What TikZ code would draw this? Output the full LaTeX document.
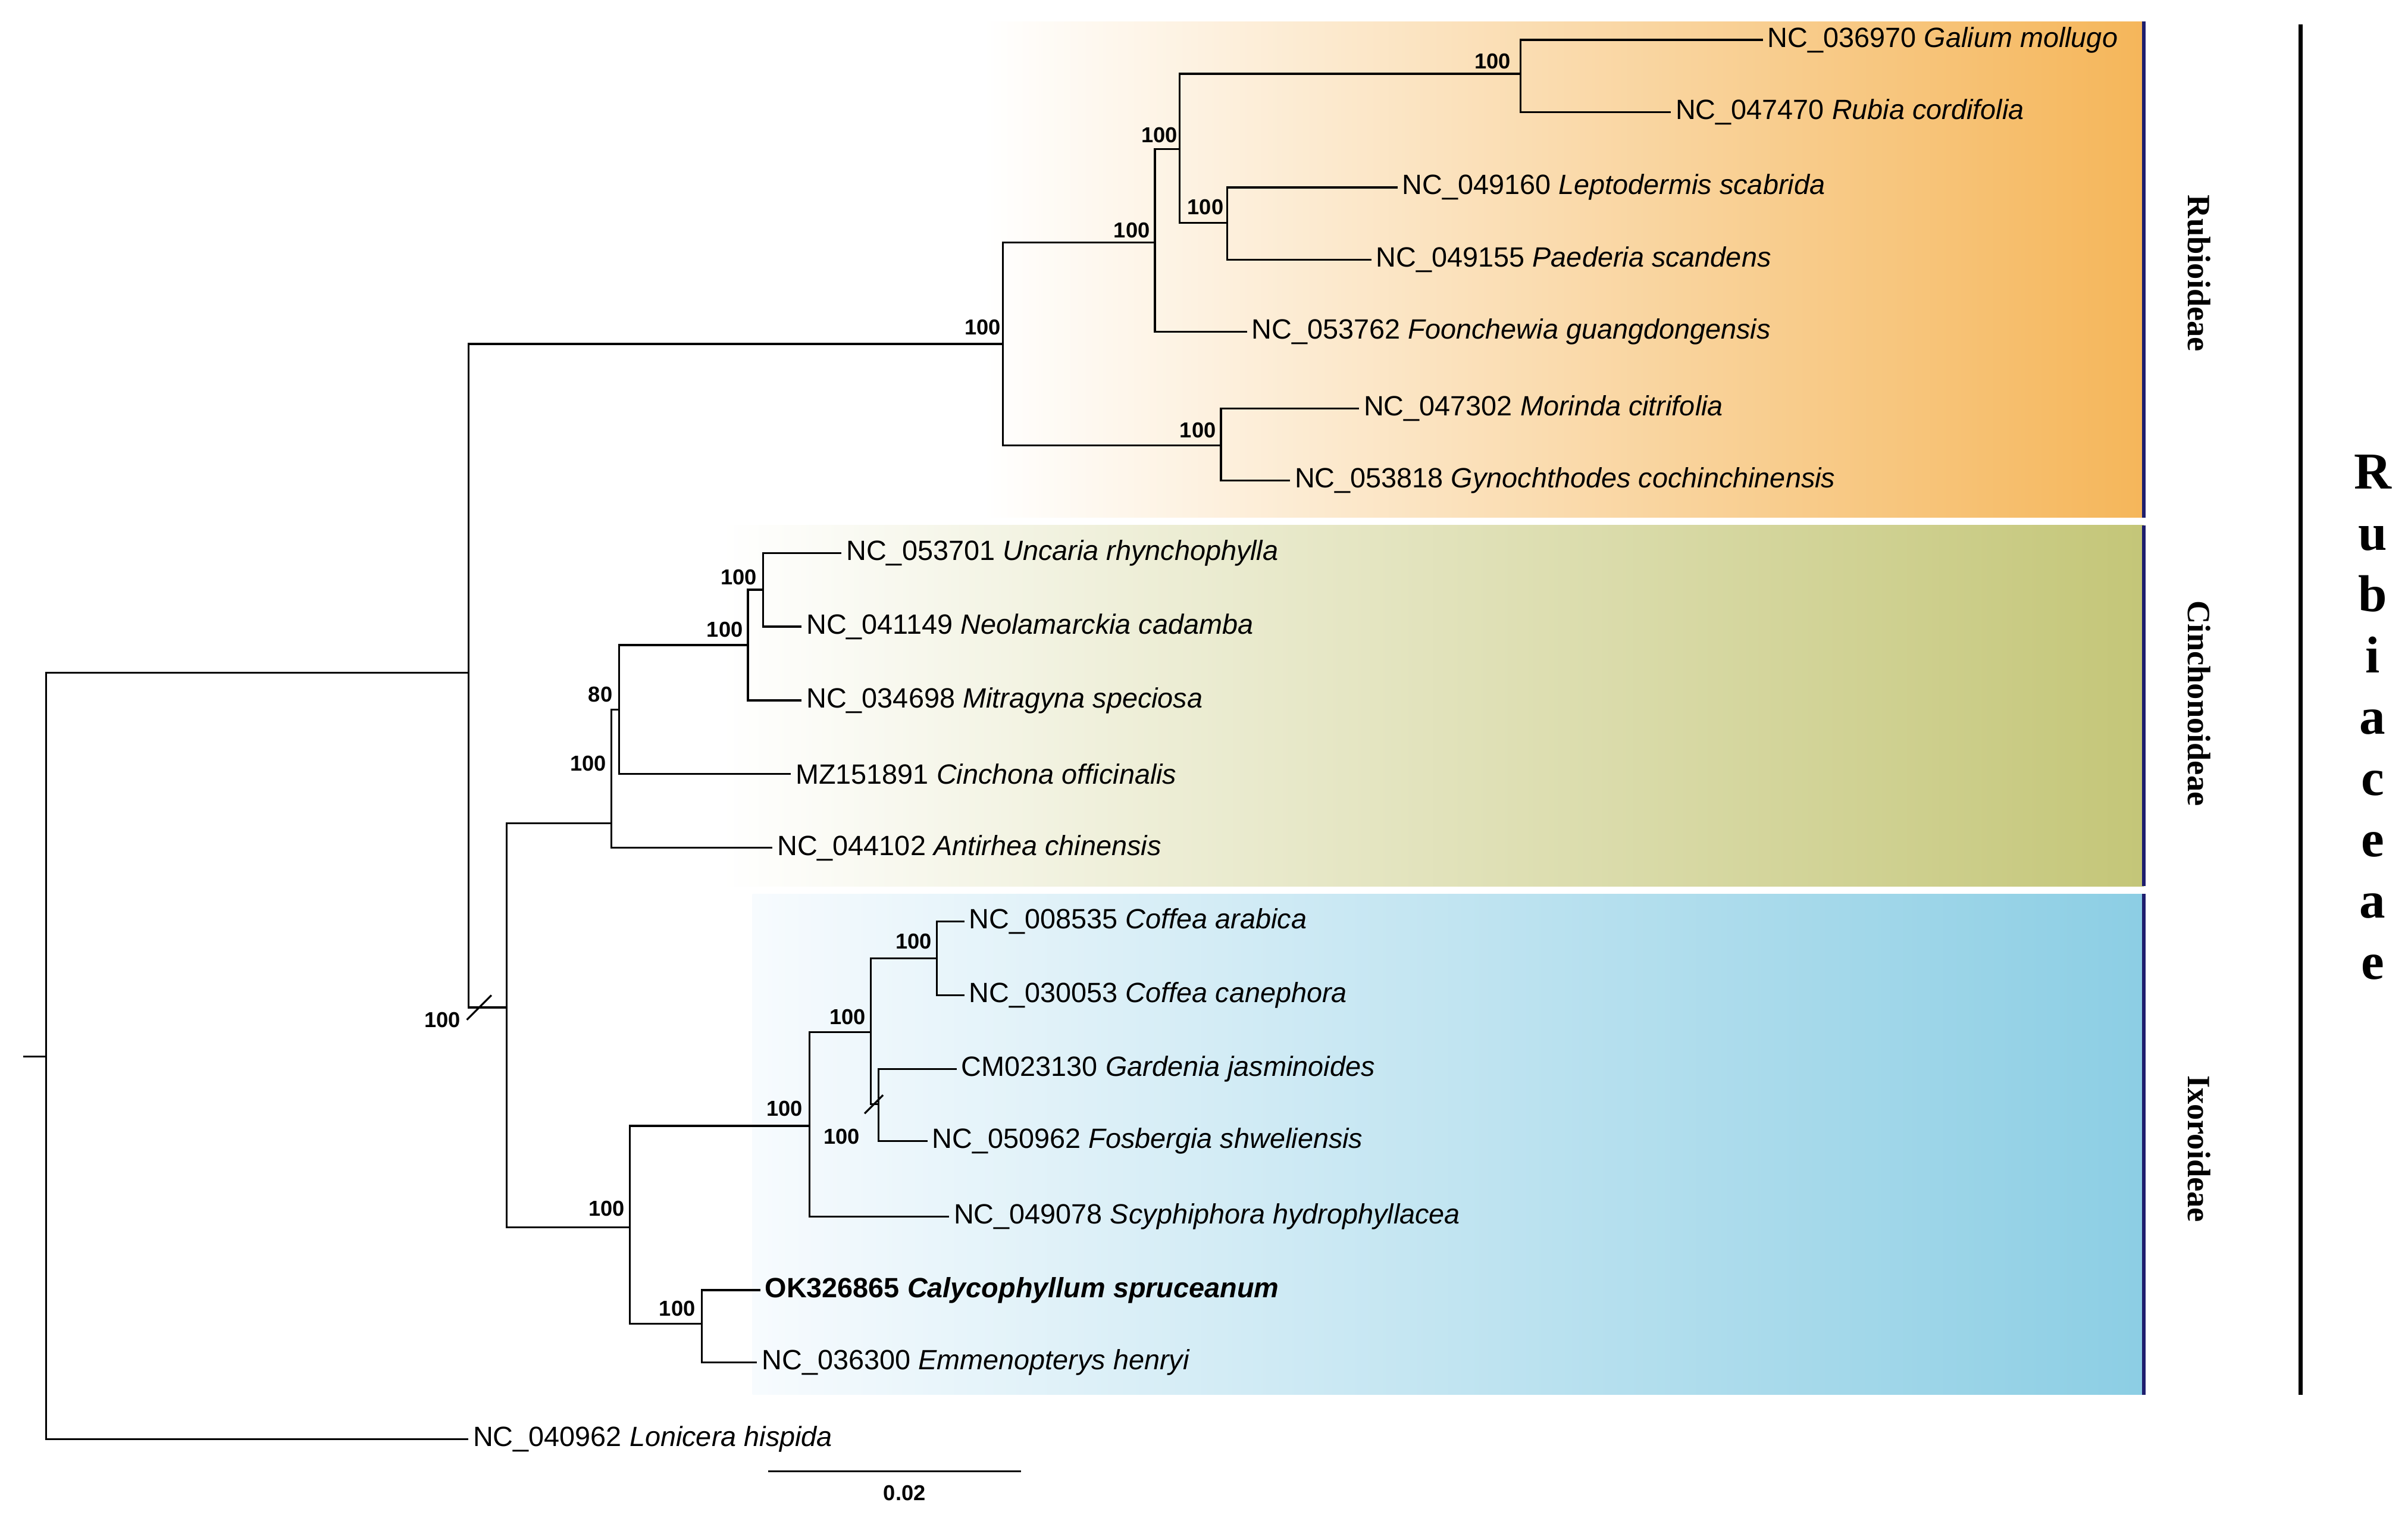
\documentclass[tikz,border=0pt]{standalone}
\usepackage{fontspec}
\setmainfont{Liberation Sans}
\newfontfamily\serifb{Liberation Serif}
\definecolor{rubc}{RGB}{245,182,90}
\definecolor{cinc}{RGB}{196,198,120}
\definecolor{ixoc}{RGB}{140,206,228}
\definecolor{ixol}{RGB}{247,251,254}
\definecolor{edge}{RGB}{30,30,110}
\begin{document}
\begin{tikzpicture}[x=0.025cm,y=-0.025cm,
  br/.style={line width=0.9pt},
  leaf/.style={anchor=west,inner sep=2pt,font=\fontsize{12.9}{14}\selectfont},
  bs/.style={inner sep=0pt,font=\fontsize{10}{11}\selectfont\bfseries},
  clade/.style={rotate=-90,font=\serifb\fontsize{15}{16}\selectfont\bfseries}]
\useasboundingbox (0,0) rectangle (1568,990);
% clade panels
\shade[left color=white,right color=rubc] (640,14) rectangle (1396,337);
\shade[left color=white,right color=cinc] (470,342) rectangle (1396,577);
\shade[left color=ixol,right color=ixoc] (490,582) rectangle (1396,908);
\foreach \a/\b in {14/337,342/577,582/908}
  \draw[line width=1.5pt,edge] (1396,\a) -- (1396,\b);
\node[clade] (lrub) at (1432,178) {Rubioideae};
\node[clade] (lcin) at (1432,458) {Cinchonoideae};
\node[clade] (lixo) at (1432,748) {Ixoroideae};
\draw[line width=2pt] (1498,16) -- (1498,908);
\node[font=\serifb\fontsize{24}{28.4}\selectfont\bfseries,align=center,inner sep=0pt] (fam) at (1545,467)
  {R\\u\\b\\i\\a\\c\\e\\a\\e};
% internal nodes
\coordinate (r0) at (15,688);
\coordinate (root) at (30,688);
\coordinate (n1) at (305,438);
\coordinate (rub) at (653,224);
\coordinate (ru1) at (752,158);
\coordinate (ru3) at (768,97);
\coordinate (ga) at (990,48);
\coordinate (le) at (799,145);
\coordinate (ru2) at (795,290);
\coordinate (rest) at (330,656);
\coordinate (cin) at (398,536);
\coordinate (c80) at (403,462);
\coordinate (cC) at (487,420);
\coordinate (cD) at (497,384);
\coordinate (ixo) at (410,799);
\coordinate (i1) at (527,733);
\coordinate (i3) at (567,672);
\coordinate (i4) at (610,624);
\coordinate (i5) at (572,719);
\coordinate (i2) at (457,862);
% leaves
\node[leaf] (t1) at (1148,26) {NC\_036970 \textit{Galium mollugo}};
\node[leaf] (t2) at (1088,73) {NC\_047470 \textit{Rubia cordifolia}};
\node[leaf] (t3) at (910,122) {NC\_049160 \textit{Leptodermis scabrida}};
\node[leaf] (t4) at (893,169) {NC\_049155 \textit{Paederia scandens}};
\node[leaf] (t5) at (812,216) {NC\_053762 \textit{Foonchewia guangdongensis}};
\node[leaf] (t6) at (885,266) {NC\_047302 \textit{Morinda citrifolia}};
\node[leaf] (t7) at (840,313) {NC\_053818 \textit{Gynochthodes cochinchinensis}};
\node[leaf] (t8) at (548,360) {NC\_053701 \textit{Uncaria rhynchophylla}};
\node[leaf] (t9) at (522,408) {NC\_041149 \textit{Neolamarckia cadamba}};
\node[leaf] (t10) at (522,456) {NC\_034698 \textit{Mitragyna speciosa}};
\node[leaf] (t11) at (515,504) {MZ151891 \textit{Cinchona officinalis}};
\node[leaf] (t12) at (503,552) {NC\_044102 \textit{Antirhea chinensis}};
\node[leaf] (t13) at (628,600) {NC\_008535 \textit{Coffea arabica}};
\node[leaf] (t14) at (628,648) {NC\_030053 \textit{Coffea canephora}};
\node[leaf] (t15) at (623,696) {CM023130 \textit{Gardenia jasminoides}};
\node[leaf] (t16) at (604,743) {NC\_050962 \textit{Fosbergia shweliensis}};
\node[leaf] (t17) at (618,792) {NC\_049078 \textit{Scyphiphora hydrophyllacea}};
\node[leaf] (t18) at (495,840) {\bfseries OK326865 \textit{Calycophyllum spruceanum}};
\node[leaf] (t19) at (493,887) {NC\_036300 \textit{Emmenopterys henryi}};
\node[leaf] (t20) at (305,937) {NC\_040962 \textit{Lonicera hispida}};
% branches
\draw[br] (r0) -- (root);
\draw[br] (root) |- (n1); \draw[br] (root) |- (t20.west);
\draw[br] (n1) |- (rub); \draw[br] (n1) |- (rest);
\draw[br] (rub) |- (ru1); \draw[br] (rub) |- (ru2);
\draw[br] (ru1) |- (ru3); \draw[br] (ru1) |- (t5.west);
\draw[br] (ru3) |- (ga); \draw[br] (ru3) |- (le);
\draw[br] (ga) |- (t1.west); \draw[br] (ga) |- (t2.west);
\draw[br] (le) |- (t3.west); \draw[br] (le) |- (t4.west);
\draw[br] (ru2) |- (t6.west); \draw[br] (ru2) |- (t7.west);
\draw[br] (rest) |- (cin); \draw[br] (rest) |- (ixo);
\draw[br] (cin) |- (c80); \draw[br] (cin) |- (t12.west);
\draw[br] (c80) |- (cC); \draw[br] (c80) |- (t11.west);
\draw[br] (cC) |- (cD); \draw[br] (cC) |- (t10.west);
\draw[br] (cD) |- (t8.west); \draw[br] (cD) |- (t9.west);
\draw[br] (ixo) |- (i1); \draw[br] (ixo) |- (i2);
\draw[br] (i1) |- (i3); \draw[br] (i1) |- (t17.west);
\draw[br] (i3) |- (i4); \draw[br] (i3) |- (i5);
\draw[br] (i4) |- (t13.west); \draw[br] (i4) |- (t14.west);
\draw[br] (i5) |- (t15.west); \draw[br] (i5) |- (t16.west);
\draw[br] (i2) |- (t18.west); \draw[br] (i2) |- (t19.west);
% break marks
\draw[br] (304,664) -- (320,648);
\draw[br] (563,725) -- (575,713);
% bootstrap values
\node[bs] (b1) at (640,213) {100};
\node[bs] (b2) at (737,150) {100};
\node[bs] (b3) at (755,88) {100};
\node[bs] (b4) at (972,40) {100};
\node[bs] (b5) at (785,135) {100};
\node[bs] (b6) at (780,280) {100};
\node[bs] (b7) at (383,497) {100};
\node[bs] (b8) at (391,452) {80};
\node[bs] (b9) at (472,410) {100};
\node[bs] (b10) at (481,376) {100};
\node[bs] (b11) at (288,664) {100};
\node[bs] (b12) at (395,787) {100};
\node[bs] (b13) at (511,722) {100};
\node[bs] (b14) at (552,662) {100};
\node[bs] (b15) at (595,613) {100};
\node[bs] (b16) at (548,740) {100};
\node[bs] (b17) at (441,852) {100};
% scale bar
\coordinate (s0) at (500,958);
\coordinate (s1) at (665,958);
\draw[br] (s0) -- (s1);
\node[bs] (sl) at (589,972) {0.02};
\end{tikzpicture}
\end{document}
